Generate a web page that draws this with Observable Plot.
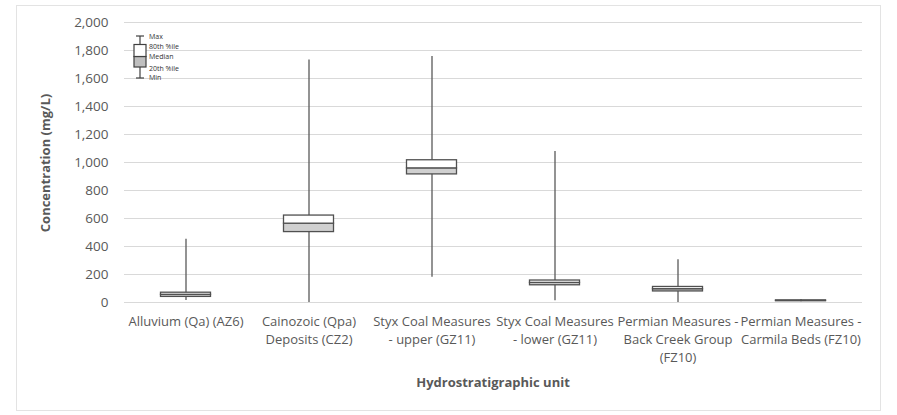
<!DOCTYPE html>
<html><head><meta charset="utf-8">
<script src="https://cdn.jsdelivr.net/npm/d3@7"></script>
<script src="https://cdn.jsdelivr.net/npm/@observablehq/plot@0.6"></script>
<style>
body{margin:0;background:#fff;}
#chart{position:relative;width:897px;height:415px;}
</style>
</head><body><div id="chart"></div>
<script>
const units = [
  "Alluvium (Qa) (AZ6)",
  "Cainozoic (Qpa)\nDeposits (CZ2)",
  "Styx Coal Measures\n- upper (GZ11)",
  "Styx Coal Measures\n- lower (GZ11)",
  "Permian Measures -\nBack Creek Group\n(FZ10)",
  "Permian Measures -\nCarmila Beds (FZ10)"
];
const minVals = [15, 0, 180, 12, 0, 6];
const p20Vals = [40, 503, 915, 123, 79, 9];
const medVals = [55, 563, 958, 140, 95, 12];
const p80Vals = [70, 621, 1016, 157, 111, 15];
const maxVals = [452, 1733, 1757, 1078, 305, 22];
const yTicks = [0, 200, 400, 600, 800, 1000, 1200, 1400, 1600, 1800, 2000];
const legendLabels = ["Max", "80th %ile", "Median", "20th %ile", "Min"];

const rows = units.map((u, i) => ({unit: u, min: minVals[i], p20: p20Vals[i], med: medVals[i], p80: p80Vals[i], max: maxVals[i]}));

const FONT = "'Open Sans', sans-serif";
const TXT = "#595959";
const W = 897, H = 415;
const ML = 124, MR = 35, MT = 22, MB = 113;

const plot = Plot.plot({
  width: W, height: H,
  marginLeft: ML, marginRight: MR, marginTop: MT, marginBottom: MB,
  style: {fontFamily: FONT, fontSize: "13px", color: TXT, background: "transparent"},
  x: {type: "band", domain: units, padding: 0, label: null},
  y: {domain: [0, 2000], label: null},
  marks: [
    Plot.ruleY(yTicks, {stroke: "#d9d9d9", strokeWidth: 1.2}),
    Plot.axisY(yTicks, {tickSize: 0, tickPadding: 16, tickFormat: d3.format(","), fontSize: 13.5, fill: TXT, label: null}),
    Plot.axisX({tickSize: 0, tickPadding: 11, fontSize: 13, fill: TXT, lineHeight: 1.38, label: null}),
    Plot.ruleX(rows, {x: "unit", y1: "min", y2: "max", stroke: "#595959", strokeWidth: 1.3}),
    Plot.barY(rows, {x: "unit", y1: "p20", y2: "med", fill: "#d0d0d0", stroke: "#505050", strokeWidth: 1.3, insetLeft: 36.5, insetRight: 36.5}),
    Plot.barY(rows, {x: "unit", y1: "med", y2: "p80", fill: "#ffffff", stroke: "#505050", strokeWidth: 1.3, insetLeft: 36.5, insetRight: 36.5})
  ]
});

const svg = d3.select(plot);
// outer chart frame
svg.insert("rect", ":first-child")
  .attr("x", 16.5).attr("y", 5.5).attr("width", 864).attr("height", 405)
  .attr("fill", "#fff").attr("stroke", "#e3e3e3");

// axis titles
svg.append("text")
  .attr("x", 493).attr("y", 387)
  .attr("text-anchor", "middle")
  .attr("font-family", FONT).attr("font-size", 13).attr("font-weight", "bold")
  .attr("fill", TXT).text("Hydrostratigraphic unit");
svg.append("text")
  .attr("transform", "translate(50,163) rotate(-90)")
  .attr("text-anchor", "middle")
  .attr("font-family", FONT).attr("font-size", 13).attr("font-weight", "bold")
  .attr("fill", TXT).text("Concentration (mg/L)");

// legend key
const lg = svg.append("g").attr("stroke", "#404040").attr("stroke-width", 1.2);
const lx = 140, yMax = 36, y80 = 44.5, yMed = 56.5, y20 = 67, yMin = 78;
lg.append("line").attr("x1", lx).attr("x2", lx).attr("y1", yMax).attr("y2", yMin);
lg.append("line").attr("x1", lx - 4).attr("x2", lx + 4).attr("y1", yMax).attr("y2", yMax);
lg.append("line").attr("x1", lx - 4).attr("x2", lx + 4).attr("y1", yMin).attr("y2", yMin);
lg.append("rect").attr("x", lx - 6).attr("y", yMed).attr("width", 12).attr("height", y20 - yMed).attr("fill", "#bfbfbf");
lg.append("rect").attr("x", lx - 6).attr("y", y80).attr("width", 12).attr("height", yMed - y80).attr("fill", "#fff");
const ly = [yMax + 0.5, y80 + 2.5, yMed + 0.5, y20 + 1.5, yMin];
svg.append("g").attr("text-anchor", "start").selectAll("text").data(legendLabels).join("text")
  .attr("x", 149).attr("y", (d, i) => ly[i])
  .attr("dy", "0.35em")
  .attr("text-anchor", "start")
  .attr("font-family", FONT).attr("font-size", 7).attr("fill", "#333333")
  .text(d => d);

document.getElementById("chart").appendChild(plot);
</script>
</body></html>
